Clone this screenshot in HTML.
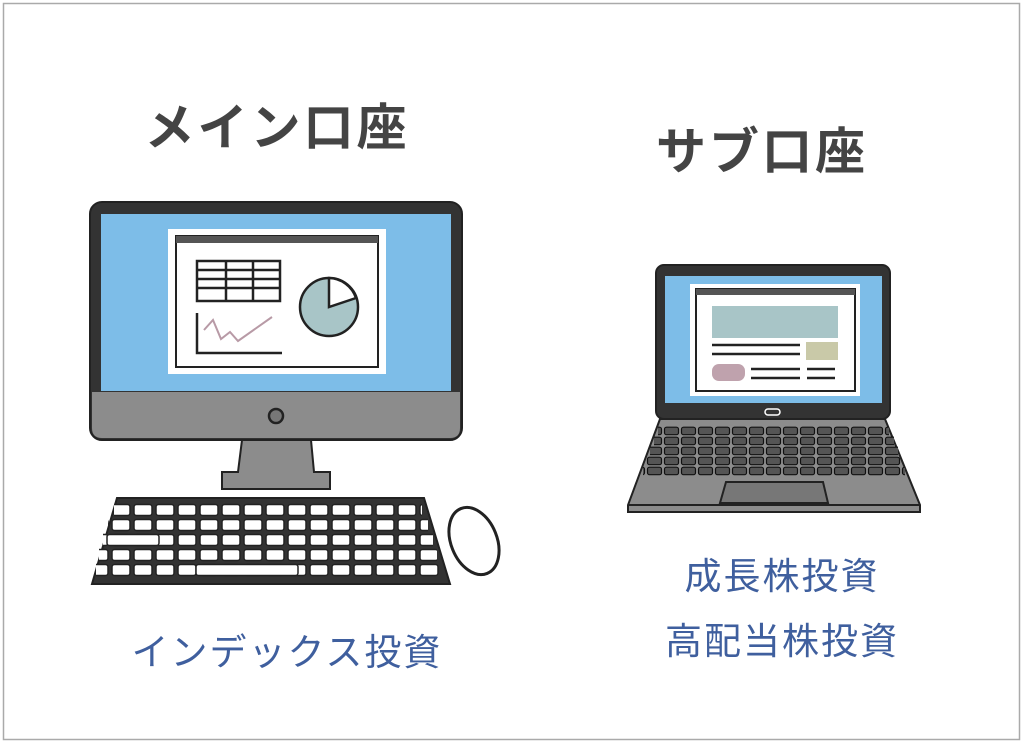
<!DOCTYPE html>
<html><head><meta charset="utf-8"><style>
html,body{margin:0;padding:0;background:#fff;}
body{width:1024px;height:744px;position:relative;overflow:hidden;}
svg{position:absolute;left:0;top:0;}
text{font-family:"Liberation Sans","Noto Sans CJK JP",sans-serif;}
</style></head><body>
<svg width="1024" height="744" viewBox="0 0 1024 744" xmlns="http://www.w3.org/2000/svg">
<defs>
<pattern id="k1" x="0" y="503" width="22" height="15" patternUnits="userSpaceOnUse">
<rect x="2" y="1.5" width="18" height="11" rx="2.5" fill="#fff" stroke="#222" stroke-width="1.5"/>
</pattern>
<pattern id="k2" x="0" y="426" width="17" height="10" patternUnits="userSpaceOnUse">
<rect x="1.5" y="1.2" width="14" height="7.5" rx="2" fill="#555" stroke="#111" stroke-width="1.2"/>
</pattern>
</defs>
<rect x="3.5" y="3.5" width="1016" height="736" fill="#fff" stroke="#aaa" stroke-width="1.5"/>
<text x="277" y="145" font-size="50" font-weight="bold" fill="#444" text-anchor="middle" letter-spacing="3">メイン口座</text>
<text x="762" y="169" font-size="50" font-weight="bold" fill="#444" text-anchor="middle" letter-spacing="3">サブ口座</text>

<!-- Desktop monitor -->
<rect x="90" y="202" width="372" height="238" rx="12" fill="#333" stroke="#222" stroke-width="2"/>
<path d="M92 392 H460 V428 Q460 438 450 438 H102 Q92 438 92 428 Z" fill="#8c8c8c"/>
<rect x="101" y="214" width="350" height="177" fill="#7dbde8"/>
<rect x="168" y="229" width="218" height="145" fill="#fff"/>
<rect x="176" y="236" width="202" height="131" fill="#fff" stroke="#222" stroke-width="2"/>
<rect x="176" y="236" width="202" height="7" fill="#555"/>
<rect x="197" y="261" width="83" height="40" fill="#fff" stroke="#222" stroke-width="2.5"/>
<path d="M197 270H280M197 279H280M197 288H280M226 261V301M253 261V301" stroke="#222" stroke-width="2.5"/>
<path d="M197 313V353H282" fill="none" stroke="#222" stroke-width="2.5"/>
<path d="M204 330L213 320L221 339L230 332L238 341L272 317" fill="none" stroke="#b89aa6" stroke-width="2"/>
<circle cx="329" cy="307" r="29" fill="#a8c5c7" stroke="#222" stroke-width="2.5"/>
<path d="M329 307V278A29 29 0 0 1 356 298Z" fill="#fff" stroke="#222" stroke-width="2.5"/>
<circle cx="276" cy="416" r="7" fill="#777" stroke="#222" stroke-width="2.5"/>
<path d="M242 440H311L314 472H330V489H222V472H238Z" fill="#8c8c8c" stroke="#222" stroke-width="2"/>
<!-- keyboard -->
<path d="M117 498H424L450 584H92Z" fill="#333" stroke="#222" stroke-width="2"/>
<rect x="114" y="503" width="308" height="15" fill="url(#k1)"/>
<rect x="108" y="518" width="320" height="15" fill="url(#k1)"/>
<rect x="103" y="533" width="330" height="15" fill="url(#k1)"/>
<rect x="99" y="548" width="338" height="15" fill="url(#k1)"/>
<rect x="96" y="563" width="344" height="15" fill="url(#k1)"/>
<rect x="196" y="564.5" width="102" height="11" rx="2.5" fill="#fff" stroke="#222" stroke-width="1.5"/>
<rect x="107" y="534.5" width="52" height="11" rx="2.5" fill="#fff" stroke="#222" stroke-width="1.5"/>
<ellipse cx="474" cy="541" rx="23" ry="35" transform="rotate(-22 474 541)" fill="#fff" stroke="#222" stroke-width="3"/>

<!-- Laptop -->
<rect x="656" y="265" width="234" height="154" rx="8" fill="#333" stroke="#222" stroke-width="2"/>
<rect x="665" y="276" width="217" height="127" fill="#7dbde8"/>
<rect x="690" y="284" width="170" height="112" fill="#fff"/>
<rect x="696" y="289" width="159" height="102" fill="#fff" stroke="#222" stroke-width="2"/>
<rect x="696" y="289" width="159" height="6" fill="#555"/>
<rect x="712" y="306" width="126" height="32" fill="#a8c5c7"/>
<rect x="806" y="342" width="32" height="18" fill="#c9c9a8"/>
<path d="M712 345H800M712 354H800M751 369H800M751 378H800M807 369H835M807 378H835" stroke="#222" stroke-width="2.5"/>
<rect x="712" y="364" width="33" height="17" rx="7" fill="#bfa2ad"/>
<rect x="765" y="409" width="15" height="6" rx="3" fill="#333" stroke="#fff" stroke-width="1.5"/>
<path d="M660 419H885L920 505V512H628V505Z" fill="#8c8c8c" stroke="#222" stroke-width="2"/>
<path d="M628 505H920" stroke="#222" stroke-width="2"/>
<rect x="658" y="426" width="231" height="10" fill="url(#k2)"/>
<rect x="654" y="436" width="240" height="10" fill="url(#k2)"/>
<rect x="650" y="446" width="248" height="10" fill="url(#k2)"/>
<rect x="646" y="456" width="256" height="10" fill="url(#k2)"/>
<rect x="643" y="466" width="262" height="10" fill="url(#k2)"/>
<path d="M726 482H823L828 503H720Z" fill="#777" stroke="#222" stroke-width="2"/>

<text x="287" y="665" font-size="37" fill="#3f5f9e" text-anchor="middle" letter-spacing="2">インデックス投資</text>
<text x="782" y="589" font-size="37" fill="#3f5f9e" text-anchor="middle" letter-spacing="2">成長株投資</text>
<text x="782" y="654" font-size="37" fill="#3f5f9e" text-anchor="middle" letter-spacing="2">高配当株投資</text>
</svg>
</body></html>
